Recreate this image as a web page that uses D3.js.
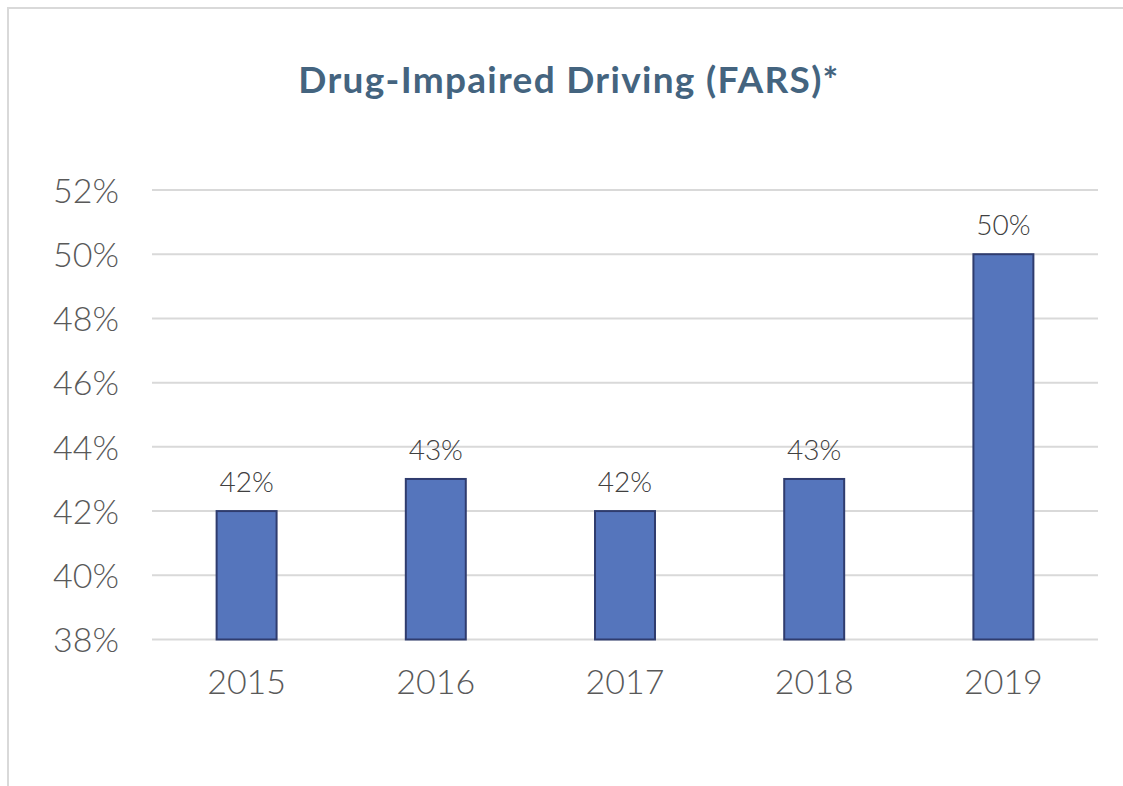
<!DOCTYPE html>
<html>
<head>
<meta charset="utf-8">
<script src="https://cdn.jsdelivr.net/npm/d3@7"></script>
<style>
  html, body { margin: 0; padding: 0; background: #fff; }
  svg { display: block; }
</style>
</head>
<body>
<svg id="chart" width="1123" height="786"></svg>
<script>
const title = "Drug-Impaired Driving (FARS)*";
const years = ["2015", "2016", "2017", "2018", "2019"];
const values = [0.42, 0.43, 0.42, 0.43, 0.50];
const dataLabels = ["42%", "43%", "42%", "43%", "50%"];
const yTicks = [0.38, 0.40, 0.42, 0.44, 0.46, 0.48, 0.50, 0.52];
const yTickLabels = ["38%", "40%", "42%", "44%", "46%", "48%", "50%", "52%"];

const svg = d3.select("#chart");
const W = 1123, H = 786;
const plot = { left: 152, right: 1098, top: 190, bottom: 639.5 };
const font = "Lato, 'Open Sans', sans-serif";

// outer chart border (extends past right/bottom edge as in the reference)
svg.append("rect")
  .attr("x", 8).attr("y", 8)
  .attr("width", W + 20).attr("height", H + 20)
  .attr("fill", "#fff")
  .attr("stroke", "#D9D9D9").attr("stroke-width", 2);

const x = d3.scaleBand().domain(years).range([plot.left, plot.right]).paddingInner(0.683).paddingOuter(0.3415);
const y = d3.scaleLinear().domain([0.38, 0.52]).range([plot.bottom, plot.top]);

// title
svg.append("text")
  .attr("x", 569).attr("y", 93)
  .attr("text-anchor", "middle")
  .attr("font-family", font)
  .attr("font-weight", 700)
  .attr("font-size", 37)
  .attr("letter-spacing", 1.3)
  .attr("fill", "#44647F")
  .text(title);

// gridlines
svg.append("g")
  .selectAll("line")
  .data(yTicks)
  .join("line")
  .attr("x1", plot.left).attr("x2", plot.right)
  .attr("y1", d => y(d)).attr("y2", d => y(d))
  .attr("stroke", "#D9D9D9").attr("stroke-width", 2);

// y axis labels
const yAxis = d3.axisLeft(y)
  .tickValues(yTicks)
  .tickFormat((d, i) => yTickLabels[i])
  .tickSize(0).tickPadding(0);
const gy = svg.append("g").attr("transform", `translate(119,0)`).call(yAxis);
gy.select(".domain").remove();
gy.selectAll("text")
  .attr("font-family", font)
  .attr("font-weight", 300)
  .attr("font-size", 34)
  .attr("fill", "#595959")
  .attr("dy", "0.36em");

// bars
svg.append("g")
  .selectAll("rect")
  .data(values)
  .join("rect")
  .attr("x", (d, i) => x(years[i]))
  .attr("width", x.bandwidth())
  .attr("y", d => y(d))
  .attr("height", d => y(0.38) - y(d))
  .attr("fill", "#5575BC")
  .attr("stroke", "#2F3C6E").attr("stroke-width", 2);

// data labels
svg.append("g")
  .selectAll("text")
  .data(values)
  .join("text")
  .attr("x", (d, i) => x(years[i]) + x.bandwidth() / 2)
  .attr("y", d => y(d) - 19)
  .attr("text-anchor", "middle")
  .attr("font-family", font)
  .attr("font-weight", 300)
  .attr("font-size", 28)
  .attr("fill", "#404040")
  .text((d, i) => dataLabels[i]);

// x axis labels
const xAxis = d3.axisBottom(x).tickSize(0).tickPadding(0);
const gx = svg.append("g").attr("transform", `translate(0,${plot.bottom})`).call(xAxis);
gx.select(".domain").remove();
gx.selectAll("text")
  .attr("font-family", font)
  .attr("font-weight", 300)
  .attr("font-size", 34)
  .attr("fill", "#595959")
  .attr("dy", "1.6em");
</script>
</body>
</html>
